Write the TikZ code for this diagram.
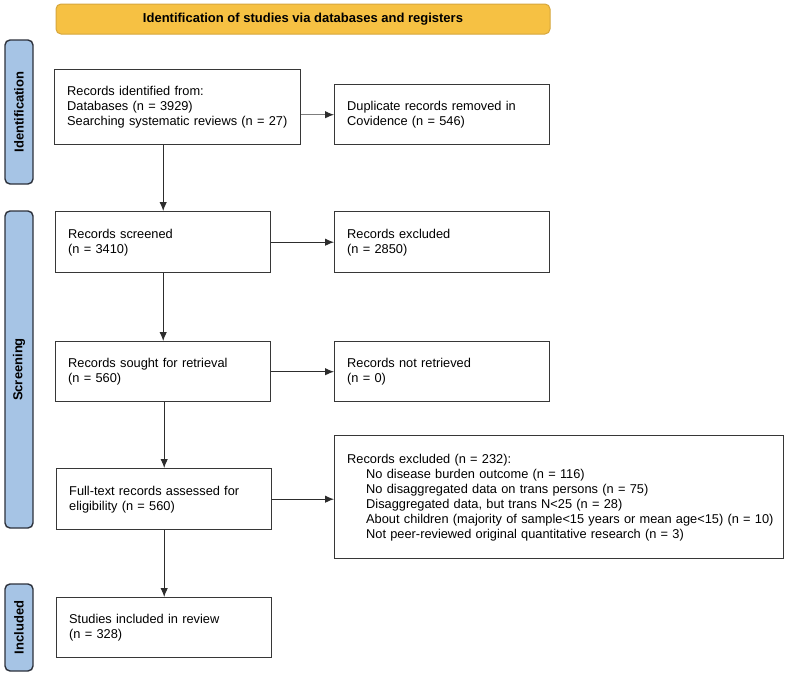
\documentclass[tikz,border=0pt]{standalone}
\usepackage{fontspec}
\setmainfont{Liberation Sans}
\usetikzlibrary{arrows.meta}
\definecolor{titlefill}{RGB}{246,193,67}
\definecolor{titledraw}{RGB}{214,166,60}
\definecolor{sidefill}{RGB}{166,196,229}
\definecolor{sidedraw}{RGB}{45,50,60}
\definecolor{boxdraw}{RGB}{55,55,55}
\definecolor{arrowc}{RGB}{45,45,45}
\definecolor{arrowlight}{RGB}{125,125,125}
\hbadness=10000 \hfuzz=100pt
\begin{document}
\begin{tikzpicture}[x=1pt,y=-1pt,
  box/.style={draw=boxdraw, line width=1.4pt, fill=white, align=left, anchor=north west,
    inner xsep=12.5pt, inner ysep=0pt, font=\fontsize{12.8}{15}\selectfont, text=black},
  sidebar/.style={draw=sidedraw, fill=sidefill, line width=1.4pt, rounded corners=5pt},
  sidelabel/.style={rotate=90, font=\fontsize{13}{15}\selectfont\bfseries, text=black},
  flow/.style={draw=arrowc, line width=1pt, -{Latex[length=9pt,width=7.5pt]}},
  flowlight/.style={draw=arrowlight, line width=1pt, -{Latex[length=9pt,width=7.5pt,color=arrowc]}}
]
\useasboundingbox (0,0) rectangle (788,675);
\fill[white] (0,0) rectangle (788,675);

% title
\draw[draw=titledraw, fill=titlefill, line width=1pt, rounded corners=5pt] (56,4) rectangle (550,34);
\node[font=\fontsize{13}{15}\selectfont\bfseries] (title) at (303,19) {Identification of studies via databases and registers};

% side bars
\draw[sidebar] (5,40) rectangle (33,184);
\node[sidelabel] (lid) at (19,112) {Identification};
\draw[sidebar] (5,211) rectangle (33,528);
\node[sidelabel] (lsc) at (19,369.5) {Screening};
\draw[sidebar] (5,584) rectangle (33,671);
\node[sidelabel] (lin) at (19,627.5) {Included};

% boxes
\node[box, text width=221pt, minimum height=75pt] (b1) at (54,69)
  {Records identified from:\\Databases (n = 3929)\\\mbox{Searching systematic reviews (n = 27)}};
\node[box, text width=190pt, minimum height=60pt] (b2) at (334,84)
  {\mbox{Duplicate records removed in}\\Covidence (n = 546)};
\node[box, text width=190pt, minimum height=61pt] (b3) at (55,211)
  {Records screened\\(n = 3410)};
\node[box, text width=190pt, minimum height=61pt] (b4) at (334,211)
  {Records excluded\\(n = 2850)};
\node[box, text width=190pt, minimum height=60pt] (b5) at (55,341)
  {Records sought for retrieval\\(n = 560)};
\node[box, text width=190pt, minimum height=60pt] (b6) at (334,341)
  {Records not retrieved\\(n = 0)};
\node[box, text width=190pt, minimum height=61pt] (b7) at (56,468)
  {\mbox{Full-text records assessed for}\\eligibility (n = 560)};
\node[box, text width=424pt, minimum height=123pt] (b8) at (334,435)
  {Records excluded (n = 232):\\
   \hspace*{19pt}\mbox{No disease burden outcome (n = 116)}\\
   \hspace*{19pt}\mbox{No disaggregated data on trans persons (n = 75)}\\
   \hspace*{19pt}\mbox{Disaggregated data, but trans N<25 (n = 28)}\\
   \hspace*{19pt}\mbox{About children (majority of sample<15 years or mean age<15) (n = 10)}\\
   \hspace*{19pt}\mbox{Not peer-reviewed original quantitative research (n = 3)}};
\node[box, text width=190pt, minimum height=60pt] (b9) at (56,597)
  {Studies included in review\\(n = 328)};

% connectors
\draw[flowlight] (b1.east |- b2.west) -- (b2.west);
\draw[flow] (b3.north |- b1.south) -- (b3.north);
\draw[flow] (b3.east) -- (b4.west);
\draw[flow] (b3.south) -- (b5.north);
\draw[flow] (b5.east) -- (b6.west);
\draw[flow] (b7.north |- b5.south) -- (b7.north);
\draw[flow] (b7.east) -- (b7.east -| b8.west);
\draw[flow] (b7.south) -- (b9.north);
\end{tikzpicture}
\end{document}
